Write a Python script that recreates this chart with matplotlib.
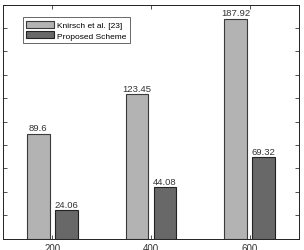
import matplotlib.pyplot as plt
import numpy as np

plt.rcParams['font.family'] = ['Liberation Sans', 'DejaVu Sans']

groups = [200, 400, 600]
knirsch = [89.6, 123.45, 187.92]
proposed = [24.06, 44.08, 69.32]
series_names = ["Knirsch et al. [23]", "Proposed Scheme"]

fig = plt.figure(figsize=(3.04, 2.51), dpi=100)
ax = fig.add_axes([3 / 304, 1 - 239.5 / 251, 296 / 304, 234 / 251])

x = np.array(groups, dtype=float)
w = 46
offset = 28.5
b1 = ax.bar(x - offset, knirsch, width=w, color="#b3b3b3", edgecolor="#3a3a3a",
            linewidth=0.8, label=series_names[0])
b2 = ax.bar(x + offset, proposed, width=w, color="#686868", edgecolor="#222222",
            linewidth=0.8, label=series_names[1])

for bars, vals in ((b1, knirsch), (b2, proposed)):
    for rect, v in zip(bars, vals):
        ax.text(rect.get_x() + rect.get_width() / 2, v + 1.2, f"{v:g}",
                ha="center", va="bottom", fontsize=6.8, color="#333333")

ax.set_xlim(100, 700)
ax.set_ylim(0, 200)
ax.set_xticks(groups)
ax.set_yticks(np.arange(0, 201, 20))
ax.tick_params(direction="in", length=3, width=0.6, labelsize=7, top=True, right=True,
               colors="#333333", pad=3)
for s in ax.spines.values():
    s.set_linewidth(0.7)
    s.set_color("#222222")

leg = ax.legend(loc="upper left", bbox_to_anchor=(0.068, 0.945), fontsize=6,
                frameon=True, fancybox=False, edgecolor="#222222", handlelength=3.3,
                handleheight=0.95, borderpad=0.4, labelspacing=0.25, handletextpad=0.4,
                borderaxespad=0)
leg.get_frame().set_linewidth(0.6)

fig.savefig("out.png", dpi=100)
